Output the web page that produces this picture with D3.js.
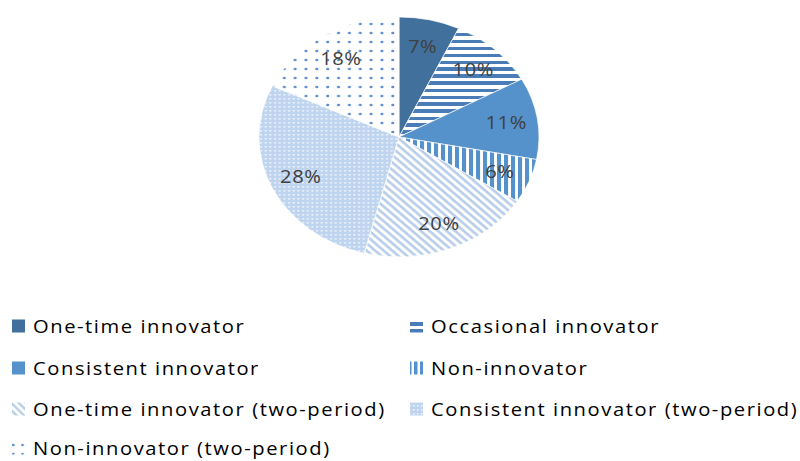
<!DOCTYPE html>
<html><head><meta charset="utf-8">
<script src="https://cdn.jsdelivr.net/npm/d3@7"></script>
<style>body{margin:0;background:#fff;}svg{display:block;}</style>
</head><body>
<svg id="c" width="800" height="461"></svg>
<script>
const categories = ["One-time innovator","Occasional innovator","Consistent innovator","Non-innovator","One-time innovator (two-period)","Consistent innovator (two-period)","Non-innovator (two-period)"];
const values = [7,10,11,6,20,28,18];
const labels = ["7%","10%","11%","6%","20%","28%","18%"];
const fills = ["#41709c","url(#pHoriz)","#5592cc","url(#pVert)","url(#pDiag)","url(#pGrid)","url(#pDots)"];

const svg = d3.select("#c");
const defs = svg.append("defs");
function pat(id, w, h, build, transform){
  const p = defs.append("pattern").attr("id",id).attr("patternUnits","userSpaceOnUse").attr("width",w).attr("height",h);
  if(transform) p.attr("patternTransform",transform);
  p.append("rect").attr("width",w).attr("height",h).attr("fill","#fff");
  build(p);
}
pat("pHoriz",7,7,p=>p.append("rect").attr("width",7).attr("height",4).attr("fill","#4a7db8"));
pat("pVert",6,6,p=>p.append("rect").attr("width",3.5).attr("height",6).attr("fill","#5592cc"));
pat("pDiag",5.2,5.2,p=>p.append("rect").attr("width",5.2).attr("height",2.4).attr("fill","#b8cdea"),"rotate(45)");
pat("pGrid",4,4,p=>{p.select("rect").attr("fill","#bfd4ef");p.append("rect").attr("x",1).attr("y",1).attr("width",1.6).attr("height",1.6).attr("fill","#eef4fb");});
pat("pDots",9.3,9,p=>{p.append("circle").attr("cx",4).attr("cy",4).attr("r",1.35).attr("fill","#5b8ccf");});

const cx=399, cy=137, r=120, sx=140/120;
const pie = d3.pie().value(d=>d).sort(null);
const arcs = pie(values);
const arc = d3.arc().innerRadius(0).outerRadius(r);
const labelArc = d3.arc().innerRadius(93).outerRadius(93);

const g = svg.append("g").attr("transform",`translate(${cx},${cy}) scale(${sx},1)`);
g.selectAll("path").data(arcs).enter().append("path")
  .attr("d",arc).attr("fill",(d,i)=>fills[i]).attr("stroke","#fff").attr("stroke-width",0.6);

const tx = 1.12;
svg.append("g").selectAll("text").data(arcs).enter().append("text")
  .attr("transform",d=>`translate(${cx+labelArc.centroid(d)[0]*sx},${cy+labelArc.centroid(d)[1]+6.5}) scale(${tx},1)`)
  .attr("text-anchor","middle")
  .attr("font-family","Open Sans, sans-serif").attr("font-size",18).attr("letter-spacing",0.5).attr("fill","#404040")
  .text((d,i)=>labels[i]);

const leg = svg.append("g");
const colX=[12,410], rowY=[326,368,409,448];
categories.forEach((c,i)=>{
  const x=colX[i%2], y=rowY[Math.floor(i/2)];
  leg.append("rect").attr("x",x).attr("y",y-6.5).attr("width",13).attr("height",13).attr("fill",fills[i]);
  leg.append("text").attr("transform",`translate(${x+21},${y+6.5}) scale(${tx},1)`)
    .attr("font-family","Open Sans, sans-serif").attr("font-size",18).attr("letter-spacing",1.4).attr("fill","#000").text(c);
});
</script>
</body></html>
